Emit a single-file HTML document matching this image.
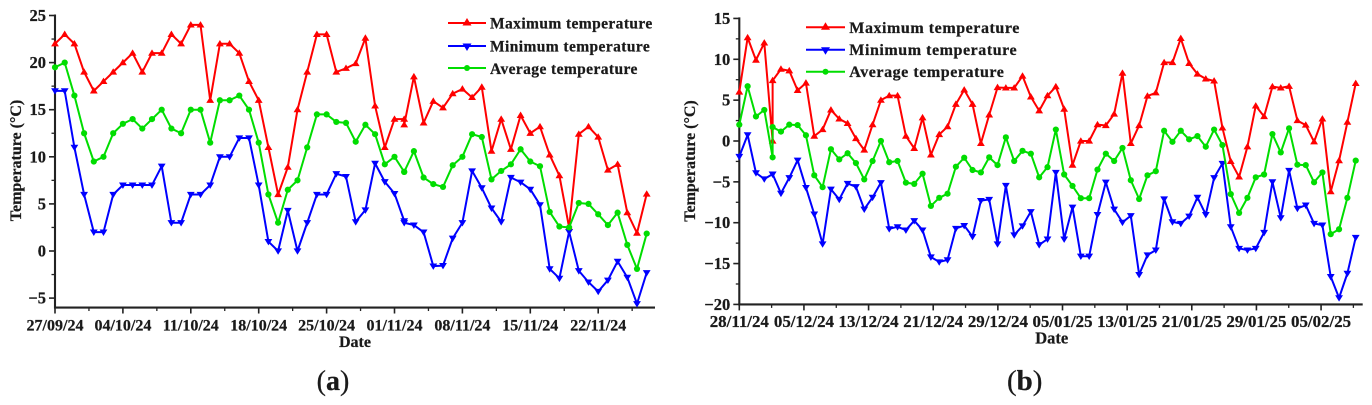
<!DOCTYPE html>
<html lang="en">
<head>
<meta charset="utf-8">
<title>Temperature charts</title>
<style>
html,body{margin:0;padding:0;background:#fff;width:1372px;height:405px;overflow:hidden}
svg{display:block;filter:blur(.35px)}
text{font-family:"Liberation Serif",serif;fill:#1a1a1a;font-weight:bold;stroke:#1a1a1a;stroke-width:.25px}
</style>
</head>
<body>
<svg id="figure" xmlns="http://www.w3.org/2000/svg" width="1372" height="405" viewBox="0 0 1372 405">
  <g id="chart-a"></g>
  <g id="chart-b"></g>

  <text transform="translate(21,160.5) rotate(-90)" text-anchor="middle" font-size="16">Temperature (°C)</text>
  <text x="355" y="347" text-anchor="middle" font-size="16">Date</text>
  <text x="333" y="390" text-anchor="middle" font-size="28" style="font-weight:normal">(<tspan font-weight="bold">a</tspan>)</text>

  <text transform="translate(695,161) rotate(-90)" text-anchor="middle" font-size="16">Temperature (°C)</text>
  <text x="1051.7" y="343.5" text-anchor="middle" font-size="16.5">Date</text>
  <text x="1024.7" y="390" text-anchor="middle" font-size="29" style="font-weight:normal">(<tspan font-weight="bold">b</tspan>)</text>

  <g>
    <g>
      <line x1="448" x2="486" y1="23" y2="23" stroke="#ff0000" stroke-width="2"/>
      <polygon points="467,18 471.5,25.5 462.5,25.5" fill="#ff0000"/>
      <text x="490" y="28.5" font-size="15.5" letter-spacing=".4">Maximum temperature</text>
    </g>
    <g>
      <line x1="448" x2="486" y1="46" y2="46" stroke="#0000ff" stroke-width="2"/>
      <polygon points="467,51 471.5,43.5 462.5,43.5" fill="#0000ff"/>
      <text x="490" y="51.5" font-size="15.5" letter-spacing=".4">Minimum temperature</text>
    </g>
    <g>
      <line x1="448" x2="486" y1="68" y2="68" stroke="#00dd00" stroke-width="2"/>
      <circle cx="467" cy="68" r="3" fill="#00dd00"/>
      <text x="490" y="74" font-size="15.5" letter-spacing=".4">Average temperature</text>
    </g>
  </g>
  <g>
    <g>
      <line x1="806" x2="845" y1="27.3" y2="27.3" stroke="#ff0000" stroke-width="2"/>
      <polygon points="825.5,22.3 830,29.8 821,29.8" fill="#ff0000"/>
      <text x="849.3" y="32.8" font-size="16" letter-spacing=".55">Maximum temperature</text>
    </g>
    <g>
      <line x1="806" x2="845" y1="49.7" y2="49.7" stroke="#0000ff" stroke-width="2"/>
      <polygon points="825.5,54.7 830,47.2 821,47.2" fill="#0000ff"/>
      <text x="849.3" y="55.2" font-size="16" letter-spacing=".55">Minimum temperature</text>
    </g>
    <g>
      <line x1="806" x2="845" y1="71.7" y2="71.7" stroke="#00dd00" stroke-width="2"/>
      <circle cx="825.5" cy="71.7" r="3" fill="#00dd00"/>
      <text x="849.3" y="77.2" font-size="16" letter-spacing=".55">Average temperature</text>
    </g>
  </g>
</svg>

<script>
// ---------- Panel (a) data ----------
const daysA = [0,1,2,3,4,5,6,7,8,9,10,11,12,13,14,15,16,17,18,19,20,21,22,23,24,25,26,27,28,29,30,31,32,33,34,35,36,36,37,38,39,40,41,42,43,44,45,46,47,48,49,50,51,52,53,54,55,56,57,58,59,60,61];
const maxA = [22,23,22,19,17,18,19,20,21,19,21,21,23,22,24,24,16,22,22,21,18,16,11,6,8.9,15,19,23,23,19,19.4,19.9,22.6,15.4,11,14,14,13.4,18.5,13.6,15.9,15.2,16.7,17.2,16.3,17.4,10.6,14,10.8,14.4,12.5,13.2,10.2,8,2.5,12.4,13.2,12.1,8.6,9.2,4.07,1.9,6.05];
const minA = [17,17,11,6,2,2,6,7,7,7,7,9,3,3,6,6,7,10,10,12,12,7,1,0,4.3,0,3,6,6,8.2,7.9,3.1,4.35,9.3,7.35,6.1,3.2,3,2.75,2,-1.6,-1.55,1.35,3,8.5,6.7,4.55,3.1,7.8,7.3,6.55,4.9,-1.9,-2.9,2.05,-2.1,-3.3,-4.3,-3.1,-1.1,-2.8,-5.6,-2.3];
const avgA = [19.5,20,16.5,12.5,9.5,10,12.5,13.5,14,13,14,15,13,12.5,15,15,11.5,16,16,16.5,15,11.5,6,3,6.5,7.5,11,14.5,14.5,13.7,13.6,11.6,13.4,12.4,9.2,10,8.4,8.4,10.6,7.8,7.1,6.8,9.1,10,12.4,12.1,7.6,8.5,9.2,10.8,9.5,9,4.15,2.6,2.5,5.1,5,3.9,2.75,4.07,0.65,-1.9,1.85];
const tickLabelsA = ["27/09/24","04/10/24","11/10/24","18/10/24","25/10/24","01/11/24","08/11/24","15/11/24","22/11/24"];
const yTicksA = [-5,0,5,10,15,20,25];

// ---------- Panel (b) data ----------
const daysB = [0,1,2,3,4,4,5,6,7,8,9,10,11,12,13,14,15,16,17,18,19,20,21,22,23,24,25,26,27,28,29,30,31,32,33,34,35,36,37,38,39,40,41,42,43,44,45,46,47,48,49,50,51,52,53,54,55,56,57,58,59,60,61,62,63,64,65,66,67,68,69,70,71,72,73,74];
const maxB = [6,12.65,9.9,12,0,7.4,8.8,8.6,6.2,7.1,0.6,1.4,3.8,2.7,2.15,0.3,-1.1,2,5,5.55,5.55,0.6,-0.9,2.85,-1.7,0.8,1.75,4.5,6.25,4.5,-0.3,3.2,6.55,6.5,6.5,7.95,5.4,3.7,5.55,6.65,3.9,-2.95,0,0,2,1.9,3.3,8.3,-0.3,1.9,5.5,5.9,9.6,9.6,12.55,9.5,8.2,7.6,7.35,1.6,-2.5,-4.4,-0.7,4.3,3,6.65,6.5,6.7,2.5,1.95,-0.1,2.7,-6.2,-2.4,2.3,7.05];
const minB = [-1.9,0.75,-3.9,-4.65,-4.05,-4.05,-6.4,-4.5,-2.35,-5.7,-8.95,-12.6,-5.9,-7.15,-5.2,-5.6,-8.35,-6.9,-5.1,-10.75,-10.5,-10.9,-9.75,-10.9,-14.2,-14.8,-14.55,-10.7,-10.35,-11.7,-7.3,-7.15,-12.6,-5.45,-11.5,-10.4,-8.65,-12.7,-12,-3.85,-12,-8.1,-14.1,-14.1,-9,-5.05,-8.35,-9.95,-9.15,-16.35,-13.95,-13.35,-7.1,-9.9,-10.1,-9.2,-6.9,-9,-4.5,-2.75,-10.5,-13.15,-13.35,-13.15,-11.2,-5,-9.4,-3.6,-8.25,-7.85,-10.1,-10.3,-16.6,-19.2,-16.2,-11.8];
const avgB = [2,6.7,3,3.8,-2,1.7,1.15,2,1.95,0.7,-4.2,-5.65,-1,-2.25,-1.5,-2.7,-4.7,-2.45,0,-2.6,-2.45,-5.1,-5.25,-4,-7.95,-6.95,-6.45,-3.15,-2.05,-3.55,-3.85,-2,-2.95,0.45,-2.45,-1.2,-1.55,-4.45,-3.2,1.4,-4.1,-5.5,-7,-7,-3.5,-1.55,-2.45,-0.85,-4.8,-7.1,-4.2,-3.7,1.25,-0.1,1.25,0.2,0.6,-0.7,1.4,-0.5,-6.5,-8.8,-6.95,-4.45,-4.1,0.85,-1.4,1.55,-2.9,-2.95,-5.05,-3.85,-11.4,-10.8,-6.95,-2.4];
const tickLabelsB = ["28/11/24","05/12/24","13/12/24","21/12/24","29/12/24","05/01/25","13/01/25","21/01/25","29/01/25","05/02/25"];
const yTicksB = [-20,-15,-10,-5,0,5,10,15];

const SVG_NS = "http://www.w3.org/2000/svg";
const RED = "#ff0000", BLUE = "#0000ff", GREEN = "#00dd00", AXIS = "#222222";

function make(parent, tag, attrs) {
  const el = document.createElementNS(SVG_NS, tag);
  for (const k in attrs) el.setAttribute(k, attrs[k]);
  parent.appendChild(el);
  return el;
}

function drawSeries(root, days, values, color, marker, name, x, y) {
  const group = make(root, "g", {});
  
  
  const pts = values.map((v, i) => x(days[i]).toFixed(2) + "," + y(v).toFixed(2)).join(" ");
  const line = make(group, "polyline", {points: pts, fill: "none", stroke: color, "stroke-width": 2, "stroke-linejoin": "round"});
  
  
  values.forEach((v, i) => {
    const cx = x(days[i]), cy = y(v);
    let m;
    if (marker === "up") {
      m = make(group, "polygon", {points: `${cx},${cy - 3.8} ${cx + 3.9},${cy + 2.6} ${cx - 3.9},${cy + 2.6}`, fill: color});
    } else if (marker === "down") {
      m = make(group, "polygon", {points: `${cx},${cy + 3.8} ${cx + 3.9},${cy - 2.6} ${cx - 3.9},${cy - 2.6}`, fill: color});
    } else {
      m = make(group, "circle", {cx: cx, cy: cy, r: 3.1, fill: color});
    }
    
    
  });
}

function drawChart(cfg) {
  const root = document.getElementById(cfg.id);
  const x = d => cfg.x0 + d * cfg.pxPerDay;
  const y = v => cfg.yZero - v * cfg.pxPerUnit;
  const yMin = cfg.yTicks[0], yMax = cfg.yTicks[cfg.yTicks.length - 1];
  const axisY = y(cfg.yBottom);

  const yAxis = make(root, "line", {x1: cfg.x0, x2: cfg.x0, y1: y(yMax) - 1, y2: axisY + 1, stroke: AXIS, "stroke-width": 2.1});
  
  
  const xAxis = make(root, "line", {x1: cfg.x0 - 1, x2: cfg.xEnd, y1: axisY, y2: axisY, stroke: AXIS, "stroke-width": 2.1});
  
  

  // y ticks and labels
  cfg.yTicks.forEach(v => {
    const tick = make(root, "line", {x1: cfg.x0 - 6, x2: cfg.x0, y1: y(v), y2: y(v), stroke: AXIS, "stroke-width": 1.6});
    
    
    const label = make(root, "text", {x: cfg.x0 - 9, y: y(v) + 5.5, "text-anchor": "end", "font-size": 16.5});
    label.textContent = v < 0 ? "\u2212" + (-v) : String(v);
    
    
  });
  for (let v = yMin + cfg.yStep / 2; v < yMax; v += cfg.yStep) {
    const minor = make(root, "line", {x1: cfg.x0 - 3.5, x2: cfg.x0, y1: y(v), y2: y(v), stroke: AXIS, "stroke-width": 1.3});
    
    
  }

  // x ticks and labels
  cfg.tickLabels.forEach((t, i) => {
    const d = i * cfg.tickStep;
    const tick = make(root, "line", {x1: x(d), x2: x(d), y1: axisY, y2: axisY + 6, stroke: AXIS, "stroke-width": 1.6});
    
    
    const label = make(root, "text", {x: x(d), y: cfg.labelY, "text-anchor": "middle", "font-size": cfg.labelSize});
    label.textContent = t;
    
    
    const md = d + cfg.tickStep / 2;
    if (x(md) < cfg.xEnd) {
      const minor = make(root, "line", {x1: x(md), x2: x(md), y1: axisY, y2: axisY + 3.5, stroke: AXIS, "stroke-width": 1.3});
      
      
    }
  });

  drawSeries(root, cfg.days, cfg.max, RED, "up", "maximum-temperature-series", x, y);
  drawSeries(root, cfg.days, cfg.min, BLUE, "down", "minimum-temperature-series", x, y);
  drawSeries(root, cfg.days, cfg.avg, GREEN, "circle", "average-temperature-series", x, y);
}

drawChart({
  id: "chart-a", days: daysA, max: maxA, min: minA, avg: avgA,
  tickLabels: tickLabelsA, yTicks: yTicksA, yStep: 5, yBottom: -6,
  x0: 55, xEnd: 655, pxPerDay: 9.7, yZero: 251, pxPerUnit: 9.42,
  tickStep: 7, labelY: 330.5, labelSize: 16
});
drawChart({
  id: "chart-b", days: daysB, max: maxB, min: minB, avg: avgB,
  tickLabels: tickLabelsB, yTicks: yTicksB, yStep: 5, yBottom: -20,
  x0: 739.3, xEnd: 1362.7, pxPerDay: 8.33, yZero: 141, pxPerUnit: 8.171,
  tickStep: 7.76, labelY: 326.8, labelSize: 16.9
});
</script>
</body>
</html>
